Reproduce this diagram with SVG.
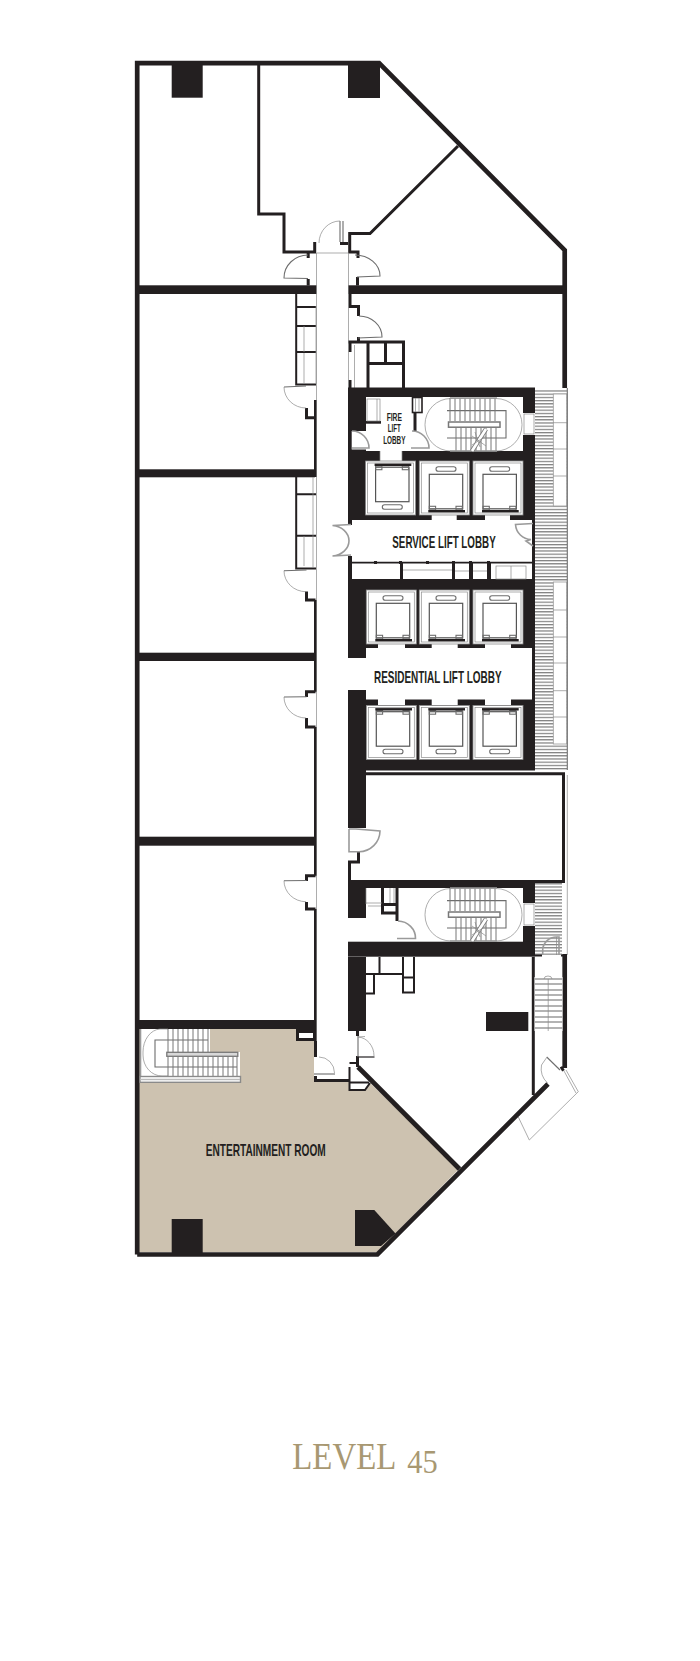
<svg xmlns="http://www.w3.org/2000/svg" width="700" height="1661" viewBox="0 0 700 1661">
<style>
.k{fill:#231f20}
.w{fill:#fff}
.s{fill:none;stroke:#231f20;stroke-miterlimit:10}
.t1{stroke-width:1.2}.t2{stroke-width:2}.t3{stroke-width:3}.t4{stroke-width:4.7}
.g{fill:none;stroke:#8a8a8a;stroke-width:.7}
.tr{fill:none;stroke:#777;stroke-width:1}
.gd{fill:none;stroke:#6d6d6d;stroke-width:1.1}
.gb{fill:none;stroke:#9a9a9a;stroke-width:1.6}
.lab{font-family:"Liberation Sans Narrow","Liberation Sans",sans-serif;fill:#231f20;font-weight:700}
</style>
<defs>
<pattern id="hatch" patternUnits="userSpaceOnUse" width="6" height="3.2">
<rect width="6" height="3.2" fill="#fff"/><rect width="6" height="1.2" fill="#7d7d7d"/>
</pattern>
<g id="lift">
<rect x="0" y="0" width="50" height="54" fill="#fff" stroke="#8a8a8a" stroke-width=".8"/>
<rect x="2" y="2" width="46" height="50" class="g"/>
<rect x="16.7" y="5.7" width="20" height="4.6" rx="2.3" class="gd"/>
<rect x="10" y="13.3" width="33.4" height="34.5" fill="#fff" stroke="#555" stroke-width="1.2"/>
<rect x="10" y="45.3" width="6.3" height="3.6" fill="#fff" class="gd"/>
<rect x="36.7" y="45.3" width="6.3" height="3.6" fill="#fff" class="gd"/>
<rect x="9" y="49" width="36.7" height="2.4" class="k"/>
</g>
<g id="stair">
<rect x="425" y="398.5" width="97" height="52.5" rx="26" ry="26" class="g"/>
<path class="gd" d="M447,410.6H506V438H447"/>
<path class="tr" d="M450,398V421M455,398V421M460,398V421M465,398V421M470,398V421M475,398V421M480,398V421M485,398V421M490,398V421M495,398V421"/>
<path class="tr" d="M456,428V451M461,428V451M466,428V451M471,428V451M476,428V451M481,428V451M486,428V451M491,428V451M496,428V451"/>
<path class="gb" d="M450,398H497M450,451H497"/>
<rect x="448.5" y="422" width="51.5" height="5.2" fill="#fff" stroke="#777" stroke-width="1.5"/>
<path d="M486,429L472,451" fill="none" stroke="#777" stroke-width="4.4"/>
<path d="M486,429L472,451" fill="none" stroke="#fff" stroke-width="2.8"/>
<path class="g" d="M472,436L486,446M472,445L486,436M475,432L480,447"/>
</g>
</defs>
<rect id="background" width="700" height="1661" fill="#fff"/>
<polygon id="entertainment-room" points="139,1029 314,1029 314,1082 349,1082 349,1090 366,1090 370,1083 459,1169 377,1252 139,1252" fill="#cdc2b0"/>

<g id="hatching">
<rect x="535" y="390" width="32" height="380" fill="url(#hatch)"/>
<rect x="535" y="883" width="27" height="72" fill="url(#hatch)"/>
<rect x="553.3" y="394" width="13.5" height="112" fill="#fff" stroke="#9a9a9a" stroke-width=".8"/>
<rect x="553.3" y="582" width="13.5" height="162" fill="#fff" stroke="#9a9a9a" stroke-width=".8"/>
<path class="g" d="M553,422.7H567M553,449H567M553,476H567M553,610H567M553,637H567M553,663H567M553,690.7H567M553,717H567"/>
<path class="gd" d="M567.3,388V770"/>
<path class="g" d="M567.3,775V955"/>
</g>

<g id="walls">
<path id="outline" class="s t4" d="M137.2,1254.5V63.2H379.1L564.7,250.1V388M137.2,1254.5H377.4L548,1084"/>
<rect class="k" x="171.7" y="65" width="31" height="32.7"/>
<rect class="k" x="348" y="65" width="32" height="33"/>
<rect class="k" x="171.7" y="1219" width="31" height="34"/>
<polygon class="k" points="355,1210 374.3,1210 395.5,1233.5 381,1246 355,1246"/>
<path class="s t3" d="M258.7,65V214H284V251.9H314.7V242"/>
<path class="s t3" d="M458,146L370,233.5H349.7V251.9H358V258"/>
<path class="s t3" d="M340,243.5H348M308.2,253V258M308.2,279V285.5M357.5,277V285.5"/>
<rect class="k" x="139" y="285.3" width="177.7" height="8.7"/>
<rect class="k" x="348" y="285.3" width="215" height="8.7"/>
<rect class="k" x="139" y="469.3" width="176" height="8"/>
<rect class="k" x="139" y="652.7" width="176" height="8.3"/>
<rect class="k" x="139" y="836.7" width="176" height="9"/>
<rect class="k" x="139" y="1020" width="175" height="9"/>
<path class="s t3" d="M315.5,417.7V477M315.5,600V691.7M315.5,727V875.7M315.5,909V1057"/>
<path class="s t3" d="M315.5,400V417.7H306.5V408M315.5,600H306.5V591.5M315.5,691.7H306.5V697M315.5,727H306.5V718M315.5,875.7H306.5V881M315.5,909H306.5V902"/>
<path class="s t2" d="M296.2,294V384.5H316M296.2,307H316M296.2,326H316M296.2,352H316M296.2,477V568.5H316M296.2,494.3H316M296.2,535.8H316"/>
<path class="s t3" d="M350,294V306.5H358.5V316M358.5,337V343"/>
<path class="s t3" d="M348,342H403.5V388M368,342V388M385.5,342V363.5M368,363.5H403.5M350,342V352M350,380V388"/>
<path class="g" d="M316.5,253V1060M348.5,253V388M316.5,253H348.5M354.5,345V388M316,306V384"/>
<path class="g" d="M304,326V352M304,353V383M313,477V568M304,536V566"/>
</g>

<g id="core">
<rect class="k" x="348" y="387.5" width="187" height="383"/>
<rect class="w" x="366" y="397" width="157" height="54"/>
<rect class="w" x="351.7" y="431" width="15" height="18.5"/>
<rect class="k" x="366" y="421" width="15" height="2.7"/>
<rect class="w" x="380" y="451" width="22" height="10"/>
<rect class="w" x="372" y="399" width="7" height="22"/>
<rect class="w" x="352" y="520" width="180" height="42"/>
<rect class="w" x="348" y="525" width="5" height="31"/>
<rect class="w" x="352" y="563.5" width="48" height="15.5"/>
<rect class="w" x="403" y="563.5" width="49" height="15.5"/>
<rect class="w" x="455" y="563.5" width="14" height="15.5"/>
<rect class="w" x="473" y="563.5" width="14" height="15.5"/>
<rect class="w" x="491" y="563.5" width="41" height="15.5"/>
<path class="g" d="M403,570H452M455,571H469M473,571H487"/>
<rect x="496" y="566" width="30" height="13" class="g"/><path class="g" d="M511,566V579"/>
<rect class="w" x="366" y="648" width="166" height="51.5"/>
<rect class="w" x="348" y="658" width="18" height="32"/>
<g class="w">
<rect x="431.7" y="515" width="25" height="5"/><rect x="485" y="515" width="25" height="5"/>
<rect x="378" y="643" width="27" height="5.2"/><rect x="431.7" y="643" width="26" height="5.2"/><rect x="485" y="643" width="26" height="5.2"/>
<rect x="378" y="699" width="27" height="6.2"/><rect x="431.7" y="699" width="26" height="6.2"/><rect x="485" y="699" width="26" height="6.2"/>
</g>
<path class="s t1" d="M352,562.3H532"/>
<path class="k" d="M374,561h3v3h-3zM399,561h3v3h-3zM426,561h3v3h-3zM452,561h3v3h-3zM469,561h3v3h-3zM487,561h3v3h-3z"/>
<path class="s t3" d="M415,397V431"/>
<rect x="412.5" y="397.5" width="9.5" height="15" fill="#fff" stroke="#231f20" stroke-width="1.6"/>
<path class="g" d="M415.5,398V412M419,398V412"/>
<rect x="367" y="399" width="13" height="22" class="g"/><path class="g" d="M377,399V421"/>
<rect class="w" x="523" y="413" width="12" height="22"/>
<rect x="524" y="414" width="10" height="20" class="g"/>
<use href="#stair"/>
<text class="lab" x="394.3" y="420.7" font-size="11" text-anchor="middle" textLength="15.3" lengthAdjust="spacingAndGlyphs">FIRE</text>
<text class="lab" x="394.3" y="432.3" font-size="11" text-anchor="middle" textLength="13" lengthAdjust="spacingAndGlyphs">LIFT</text>
<text class="lab" x="394.3" y="444" font-size="11" text-anchor="middle" textLength="22.3" lengthAdjust="spacingAndGlyphs">LOBBY</text>
<path class="gb" d="M352,431A17,17 0 0 1 369,448H352"/>
<path class="gb" d="M412,431A17,17 0 0 1 429,448H411"/>
<path class="g" d="M380,451V461M402,451V461"/>
<use href="#lift" transform="translate(365.6,515) scale(1,-1)"/>
<use href="#lift" x="419.3" y="461"/>
<use href="#lift" x="473" y="461"/>
<use href="#lift" x="366.3" y="590"/>
<use href="#lift" x="419.3" y="590"/>
<use href="#lift" x="473" y="590"/>
<use href="#lift" transform="translate(366.3,759.5) scale(1,-1)"/>
<use href="#lift" transform="translate(419.3,759.5) scale(1,-1)"/>
<use href="#lift" transform="translate(473,759.5) scale(1,-1)"/>
<path class="gb" d="M351,524.5L332.5,525.5A18,15.5 0 0 1 349,540.7A18,15.5 0 0 1 332.5,556L351,555"/>
<path class="gb" d="M533,523.5L515.5,524.5A16,16 0 0 0 531,539.5L526,541L533,546"/>
<text class="lab" x="444" y="548.3" font-size="17" text-anchor="middle" textLength="103.4" lengthAdjust="spacingAndGlyphs">SERVICE LIFT LOBBY</text>
<text class="lab" x="437.8" y="683.3" font-size="17" text-anchor="middle" textLength="127.7" lengthAdjust="spacingAndGlyphs">RESIDENTIAL LIFT LOBBY</text>
</g>

<g id="lower-core">
<rect class="k" x="348" y="690" width="18" height="138"/>
<path class="s t3" d="M366,773.8H563.5V881.5H349.5V862H358.5V851.7"/>
<rect class="k" x="348" y="880" width="187" height="8"/>
<rect class="k" x="348" y="888" width="18" height="30"/>
<rect class="k" x="523" y="888" width="12" height="15"/>
<rect class="k" x="523" y="926" width="12" height="16"/>
<rect class="k" x="348" y="941.7" width="187" height="15"/>
<rect x="524" y="904" width="10" height="21" class="g"/>
<g transform="translate(0,490)"><use href="#stair"/></g>
<path class="s t3" d="M382.5,888V913H397V888M382.5,904.5H397M397,888V921"/>
<path class="g" d="M390,888V903M394,888V903M366,903H382M368,906H381M366,904V888"/>
<path class="gb" d="M398,921A18,17 0 0 1 415.5,938.5H397"/>
<path class="gb" d="M349,829H356L380,831A21,21 0 0 1 359,851.7H349V829"/>
<path class="s t2" d="M535,955.5H542M561,955.5H563"/>
<path class="gb" d="M542.7,955V950A14,13 0 0 1 556.7,937H559V955"/>
<path class="g" d="M556.5,937V955"/>
</g>

<g id="lower-right">
<path class="s t4" d="M564.7,954V1068"/>
<path class="s t3" d="M533.3,957V1095"/>
<rect class="w" x="534.5" y="977" width="28" height="54"/>
<path class="gb" d="M534.5,979H562.5M534.5,984H562.5M534.5,990H562.5M534.5,995H562.5M534.5,1000H562.5M534.5,1006H562.5M534.5,1011H562.5M534.5,1017H562.5M534.5,1022H562.5M534.5,1028H562.5"/>
<path class="g" d="M548.2,979V1031M544,979A4,3 0 0 1 552,979"/>
<rect class="k" x="348" y="957" width="18" height="74"/>
<path class="s t2" d="M366,974H402M379.5,957V974M374,974V993.5H366M403,957V992.5H414V957M403,977.5H414"/>
<rect class="k" x="486" y="1012" width="42.3" height="19"/>
<path class="s t3" d="M357.5,1031V1036M357.5,1056V1067"/>
<path class="s t2" d="M349.5,1067V1090H365L370,1083M349.5,1063H358M349.5,1082.5H369"/>
<path class="gb" d="M358,1036V1056.5"/>
<path class="s t1" d="M359,1057H374.5"/>
<path class="g" d="M374,1056A17,19 0 0 0 358,1037L365,1036.5"/>
<path class="s t4" d="M358,1067L459.5,1169"/>
</g>

<g id="entertainment-details">
<rect class="k" x="296" y="1029" width="18" height="12"/>
<rect class="w" x="299" y="1033" width="14" height="5"/>
<path class="s t3" d="M315.5,1041V1057"/>
<rect class="w" x="314" y="1057" width="6" height="16.5"/>
<path class="g" d="M319,1057A15.5,16 0 0 1 334.5,1073"/>
<path class="gb" d="M314,1074H335"/>
<path class="s t3" d="M315.5,1076V1082M314,1080.5H350"/>
<polygon class="w" points="140,1029 210,1029 210,1052 240,1052 240,1083 140,1083"/>
<path class="gb" d="M140.5,1029V1082"/>
<path class="g" d="M168,1029H160A18,23 0 0 0 143,1052V1055A19,21 0 0 0 162,1076H168"/>
<path class="gd" d="M208,1040H155V1067H237"/>
<path class="tr" d="M168,1029V1052M173,1029V1052M178,1029V1052M183,1029V1052M188,1029V1052M193,1029V1052M198,1029V1052M203,1029V1052M208,1029V1052"/>
<path class="tr" d="M168,1057V1076M173,1057V1076M178,1057V1076M183,1057V1076M188,1057V1076M193,1057V1076M198,1057V1076M203,1057V1076M208,1057V1076M213,1057V1076M218,1057V1076M223,1057V1076M228,1057V1076M233,1057V1076M237,1057V1076"/>
<rect x="166.8" y="1052.3" width="71" height="4" fill="#d8d8d8" stroke="#777" stroke-width="1.3"/>
<rect x="140" y="1076.5" width="100.5" height="5.8" fill="#fff" stroke="#8a8a8a" stroke-width="1.4"/>
<path d="M140,1079.5H240" stroke="#bbb" stroke-width="1.4"/>
</g>

<g id="balcony">
<path class="gd" d="M546.7,1057L560,1070"/>
<path class="g" d="M546.7,1057.5L541.5,1065A20,20 0 0 0 547.5,1083"/>
<path class="s t4" d="M561,1069.5L563.5,1068"/>
<path class="g" d="M566,1070L578.3,1091.7L529.3,1140L518.3,1117M564,1071L576,1093"/>
</g>

<g id="doors">
<path class="gb" d="M340,221V242M343,221V242"/>
<path class="g" d="M340,221A21,22 0 0 0 319,243"/>
<path class="gd" d="M355,255A25,21 0 0 1 380,276L357,277"/>
<path class="gd" d="M308,255A24,23 0 0 0 284,278L308,278.5"/>
<path class="gd" d="M359,316A23,21 0 0 1 382,337L358,338"/>
<path class="gd" d="M284,387L306,386"/>
<path class="g" d="M284,387A22,21 0 0 0 306,408"/>
<path class="gd" d="M284,570.7L306.5,570"/>
<path class="g" d="M284,570.7A22,21 0 0 0 306,591.7"/>
<path class="gd" d="M284,697L306.5,696.7"/>
<path class="g" d="M284,697A22,21 0 0 0 306,718"/>
<path class="gd" d="M284,880.7L306.5,880.5"/>
<path class="g" d="M284,880.7A22,21 0 0 0 306,901.7"/>
</g>

<g id="labels">
<text class="lab" x="265.7" y="1156" font-size="17" text-anchor="middle" textLength="120" lengthAdjust="spacingAndGlyphs">ENTERTAINMENT ROOM</text>
<text x="292.3" y="1469" font-family="'Liberation Serif',serif" font-size="37" fill="#a89872" textLength="104" lengthAdjust="spacingAndGlyphs">LEVEL</text>
<text x="407.3" y="1472.5" font-family="'Liberation Serif',serif" font-size="33" fill="#a89872" textLength="30.4" lengthAdjust="spacingAndGlyphs">45</text>
</g>
</svg>
